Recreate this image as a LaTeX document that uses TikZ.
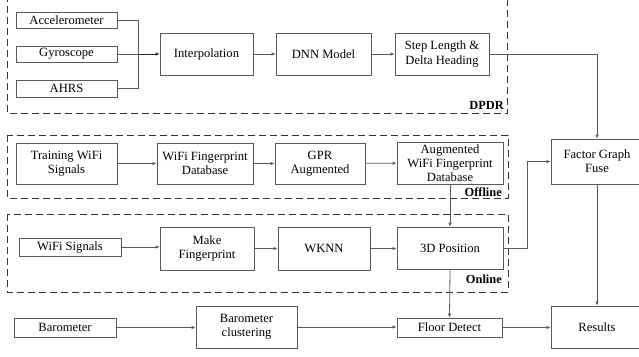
\documentclass[tikz,border=0pt]{standalone}
\usepackage{fontspec}
\setmainfont{Liberation Serif}
\usetikzlibrary{arrows.meta}
\begin{document}
\begin{tikzpicture}[x=1pt,y=-1pt,
  box/.style={draw=black!65, line width=0.8pt, fill=white, inner sep=0pt, align=center,
    font=\fontsize{12.6}{14.2}\selectfont},
  group/.style={draw=black!80, line width=0.95pt, dash pattern=on 7pt off 4pt},
  grouplabel/.style={font=\fontsize{12.4}{14}\selectfont\bfseries, anchor=east, inner sep=0pt},
  link/.style={draw=black!65, line width=0.8pt},
  flow/.style={link, -{Latex[length=4pt,width=3.5pt]}}]
\useasboundingbox (0,0) rectangle (639,356);
\clip (0,0) rectangle (639,356);

% group frames
\draw[group] (7,-5) rectangle (507.5,113);
\draw[group] (7,135) rectangle (508,198);
\draw[group] (7,214) rectangle (508,292);
\node[grouplabel] (lbldpdr) at (504,105) {DPDR};
\node[grouplabel] (lbloff) at (502,192.5) {Offline};
\node[grouplabel] (lblon) at (502,279) {Online};

% DPDR chain
\node[box, minimum width=101pt, minimum height=16pt] (acc) at (66.5,20) {Accelerometer};
\node[box, minimum width=101pt, minimum height=16pt] (gyr) at (66.5,54) {Gyroscope};
\node[box, minimum width=101pt, minimum height=17pt] (ahrs) at (66.5,88.5) {AHRS};
\node[box, minimum width=93pt, minimum height=42pt] (interp) at (206.5,54) {Interpolation};
\node[box, minimum width=95pt, minimum height=42pt] (dnn) at (323.5,54) {DNN Model};
\node[box, minimum width=94pt, minimum height=42pt] (step) at (442,54) {Step Length \&\\Delta Heading};

% offline chain
\node[box, minimum width=101pt, minimum height=41pt] (train) at (66.5,163.5) {Training WiFi\\Signals};
\node[box, minimum width=96pt, minimum height=41pt] (wfdb) at (205,163.5) {WiFi Fingerprint\\Database};
\node[box, minimum width=90pt, minimum height=41pt] (gpr) at (320,163.5) {GPR\\Augmented};
\node[box, minimum width=106pt, minimum height=42pt] (augdb) at (450,163) {Augmented\\WiFi Fingerprint\\Database};

% online chain
\node[box, minimum width=102pt, minimum height=18pt] (wifis) at (70,247) {WiFi Signals};
\node[box, minimum width=94pt, minimum height=43pt] (make) at (207,248.5) {Make\\Fingerprint};
\node[box, minimum width=92pt, minimum height=43pt] (wknn) at (324,248.5) {WKNN};
\node[box, minimum width=106pt, minimum height=42pt] (pos) at (450,248) {3D Position};

% barometer chain and fusion
\node[box, minimum width=102pt, minimum height=19pt] (baro) at (65,327.5) {Barometer};
\node[box, minimum width=101pt, minimum height=42pt] (baroc) at (246.5,327) {Barometer\\clustering};
\node[box, minimum width=105pt, minimum height=19pt] (floor) at (449.5,327.5) {Floor Detect};
\node[box, minimum width=92pt, minimum height=45pt] (fgf) at (597,161.5) {Factor Graph\\Fuse};
\node[box, minimum width=92pt, minimum height=42pt] (res) at (597,327) {Results};

\coordinate (merge) at (138,54);
\coordinate (posbend) at (527,248);

% connectors
\draw[link] (acc.east) -| (merge);
\draw[link] (ahrs.east) -| (merge);
\draw[flow, line width=1pt, draw=black!85] (merge) -- (interp.west);
\draw[link] (gyr.east) -- (merge);
\draw[flow] (interp) -- (dnn);
\draw[flow] (dnn) -- (step);
\draw[flow] (step.east) -| (fgf.north);

\draw[flow] (train) -- (wfdb);
\draw[flow] (wfdb) -- (gpr);
\draw[flow] (gpr) -- (augdb);
\draw[flow] (augdb.south) -- (pos.north);

\draw[flow] (wifis.east) -- (wifis.east -| make.west);
\draw[flow] (make) -- (wknn);
\draw[flow] (wknn.east) -- (wknn.east -| pos.west);
\draw[flow] (pos.east) -- (posbend) |- (fgf.west);
\draw[flow] (pos.south) -- (floor.north);

\draw[flow] (baro.east) -- (baro.east -| baroc.west);
\draw[flow] (baroc.east) -- (baroc.east -| floor.west);
\draw[flow] (floor.east) -- (floor.east -| res.west);
\draw[flow] (fgf.south) -- (res.north);
\end{tikzpicture}
\end{document}
